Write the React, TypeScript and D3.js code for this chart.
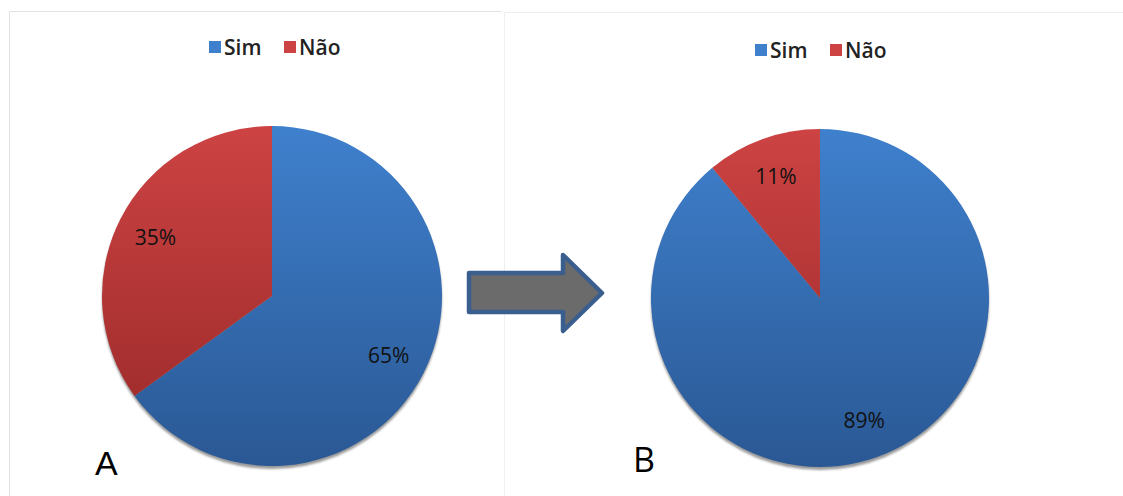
import React from "react";
import * as d3 from "d3";

const categories = ["Sim", "Não"];
const valuesA = [65, 35];
const valuesB = [89, 11];
const panelLabels = ["A", "B"];

const colors = {
  Sim: { top: "#3f80cd", bottom: "#2a5894" },
  Não: { top: "#cd4343", bottom: "#982828" },
};

type PieProps = { id: string; values: number[]; cx: number; cy: number; r: number };

function Pie({ id, values, cx, cy, r }: PieProps) {
  const data = categories.map((c, i) => ({ cat: c, v: values[i] }));
  const pie = d3.pie<{ cat: string; v: number }>().value((d) => d.v).sort(null);
  const arcs = pie(data);
  const arc = d3.arc<d3.PieArcDatum<{ cat: string; v: number }>>().innerRadius(0).outerRadius(r);
  const labelArc = d3.arc<d3.PieArcDatum<{ cat: string; v: number }>>().innerRadius(r * 0.77).outerRadius(r * 0.77);
  return (
    <g>
      <defs>
        {categories.map((c, i) => (
          <linearGradient key={c} id={`${id}-g${i}`} gradientUnits="userSpaceOnUse" x1={0} y1={-r} x2={0} y2={r}>
            <stop offset="0" stopColor={(colors as any)[c].top} />
            <stop offset="1" stopColor={(colors as any)[c].bottom} />
          </linearGradient>
        ))}
        <filter id={`${id}-blur`} x="-10%" y="-10%" width="120%" height="120%">
          <feGaussianBlur stdDeviation="1.2" />
        </filter>
      </defs>
      <g transform={`translate(${cx},${cy})`}>
        <circle cx={0} cy={3} r={r} fill="#9a9a9a" filter={`url(#${id}-blur)`} />
        {arcs.map((a, i) => (
          <path key={i} d={arc(a) || ""} fill={`url(#${id}-g${i})`} />
        ))}
        {arcs.map((a, i) => {
          const [x, y] = labelArc.centroid(a);
          return (
            <text key={"t" + i} x={x} y={y} textAnchor="middle" dominantBaseline="central"
              fontFamily="'Open Sans', sans-serif" fontSize={21} fill="#111">
              {`${a.data.v}%`}
            </text>
          );
        })}
      </g>
    </g>
  );
}

function Legend({ x, y }: { x: number; y: number }) {
  const offsets = [0, 75];
  return (
    <g transform={`translate(${x},${y})`}>
      {categories.map((c, i) => (
        <g key={c} transform={`translate(${offsets[i]},0)`}>
          <rect x={0} y={-6} width={12} height={12} fill={(colors as any)[c].top} />
          <text x={15} y={0} dominantBaseline="central" fontFamily="'Open Sans', sans-serif"
            fontSize={21} fontWeight={600} fill="#222">{c}</text>
        </g>
      ))}
    </g>
  );
}

export default function App() {
  const W = 1123, H = 496;
  return (
    <svg width={W} height={H} style={{ position: "absolute", left: 0, top: 0, background: "#fff" }}>
      <path d="M9.5,496 L9.5,11.5 L502,11.5" fill="none" stroke="#e2e2e2" strokeWidth={1} />
      <path d="M504.5,496 L504.5,12.5 L1123,12.5" fill="none" stroke="#efefef" strokeWidth={1} />

      <Legend x={209} y={47} />
      <Legend x={755} y={50} />

      <Pie id="a" values={valuesA} cx={272} cy={296} r={170} />
      <Pie id="b" values={valuesB} cx={820} cy={298} r={169} />

      <path d="M469,273 L563,273 L563,255 L602,293 L563,331 L563,312 L469,312 Z"
        fill="#6b6b6b" stroke="#3a5e8e" strokeWidth={4.5} strokeLinejoin="round" />

      <text x={95} y={475} fontFamily="'Liberation Sans', Arial, sans-serif" fontSize={34} fill="#000">{panelLabels[0]}</text>
      <text x={633} y={472} fontFamily="'Open Sans', sans-serif" fontSize={34} fill="#000">{panelLabels[1]}</text>
    </svg>
  );
}
